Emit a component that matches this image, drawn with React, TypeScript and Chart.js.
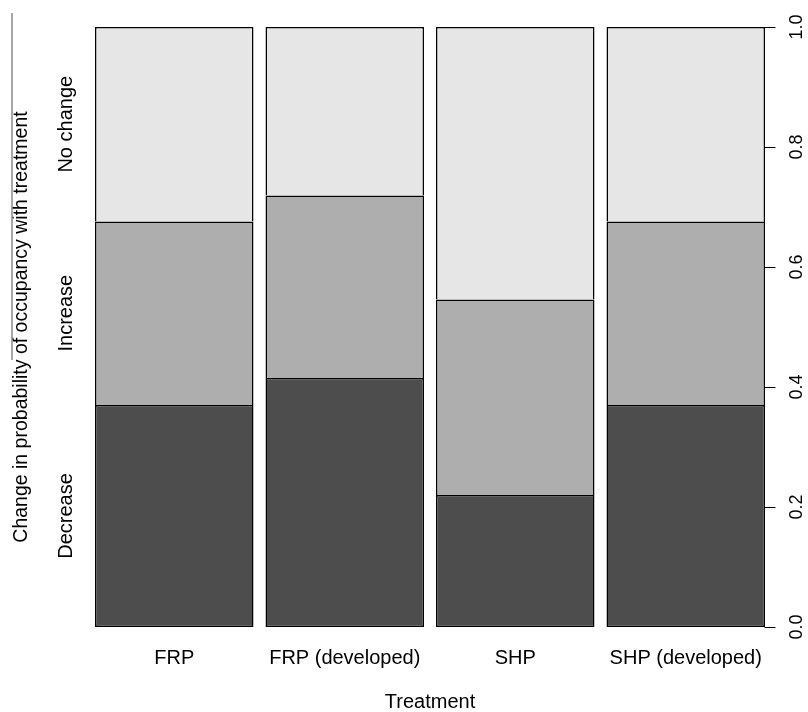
import { useEffect, useRef } from 'react';
import { Chart, registerables } from 'chart.js';

Chart.register(...registerables);

// ---- data ----
const categories = ['FRP', 'FRP (developed)', 'SHP', 'SHP (developed)'];
const responseLevels = ['Decrease', 'Increase', 'No change'];
const decrease = [0.37, 0.415, 0.22, 0.37];
const increase = [0.306, 0.304, 0.326, 0.306];
const noChange = [0.324, 0.281, 0.454, 0.324];
const yTickValues = [0, 0.2, 0.4, 0.6, 0.8, 1.0];
const seriesColors = ['#4D4D4D', '#AEAEAE', '#E6E6E6'];

const xTitle = 'Treatment';
const yTitle = 'Change in probability of occupancy with treatment';

const FONT = "'Liberation Sans', Arial, Helvetica, sans-serif";

// mid-points of the first column's segments, used for the left level labels
const firstCol = [decrease[0], increase[0], noChange[0]];
const levelPositions = firstCol.map((v, i) => firstCol.slice(0, i).reduce((a, b) => a + b, 0) + v / 2);

function measure(text: string, size: number) {
  const c = document.createElement('canvas').getContext('2d')!;
  c.font = `normal ${size}px ${FONT}`;
  return c.measureText(text).width;
}

const rightAxisPlugin = {
  id: 'rightAxisLine',
  afterDraw(chart: any) {
    const ctx = chart.ctx;
    const y = chart.scales.y;
    const meta = chart.getDatasetMeta(0);
    const last = meta.data[meta.data.length - 1];
    const props = last.getProps(['x', 'width'], true);
    const ax = Math.round(props.x + props.width / 2) - 0.5;
    ctx.save();
    ctx.strokeStyle = '#000';
    ctx.lineWidth = 1;
    ctx.beginPath();
    ctx.moveTo(ax, y.getPixelForValue(0));
    ctx.lineTo(ax, y.getPixelForValue(1));
    yTickValues.forEach((v) => {
      const py = Math.round(y.getPixelForValue(v)) + 0.5;
      ctx.moveTo(ax, py);
      ctx.lineTo(ax + 11, py);
    });
    ctx.stroke();
    // stray rule at upper left of the original figure
    ctx.strokeStyle = '#8a8a8a';
    ctx.lineWidth = 1.5;
    ctx.beginPath();
    ctx.moveTo(12, 13);
    ctx.lineTo(12, 360);
    ctx.stroke();
    ctx.restore();
  },
};

export default function App() {
  const ref = useRef<HTMLCanvasElement>(null);

  useEffect(() => {
    if (!ref.current) return;
    const widestLevel = Math.max(...responseLevels.map((t) => measure(t, 20)));
    const widestTick = Math.max(...yTickValues.map((t) => measure(t.toFixed(1), 18)));

    const chart = new Chart(ref.current, {
      type: 'bar',
      data: {
        labels: categories,
        datasets: [
          { label: responseLevels[0], data: decrease, backgroundColor: seriesColors[0], borderSkipped: false },
          { label: responseLevels[1], data: increase, backgroundColor: seriesColors[1], borderSkipped: 'bottom' },
          { label: responseLevels[2], data: noChange, backgroundColor: seriesColors[2], borderSkipped: 'bottom' },
        ].map((d) => ({
          ...d,
          borderColor: '#000',
          borderWidth: 1.5,
          inflateAmount: 0,
          barPercentage: 0.9296,
          categoryPercentage: 1,
          yAxisID: 'y',
        })) as any,
      },
      options: {
        animation: false,
        responsive: true,
        maintainAspectRatio: false,
        layout: { padding: { top: 27, left: 0, right: 0, bottom: 0 } },
        plugins: {
          legend: { display: false },
          tooltip: { enabled: false },
        },
        scales: {
          x: {
            type: 'category',
            stacked: true,
            grid: { display: false, drawTicks: false },
            border: { display: false },
            ticks: {
              font: { family: FONT, size: 20 },
              color: '#000',
              padding: 19,
              maxRotation: 0,
              minRotation: 0,
              autoSkip: false,
            },
            title: {
              display: true,
              text: xTitle,
              color: '#000',
              font: { family: FONT, size: 20, lineHeight: 1 },
              padding: { top: 22, bottom: 0 },
            },
            afterFit: (s: any) => {
              s.height = 85;
            },
          },
          y: {
            type: 'linear',
            position: 'right',
            stacked: true,
            min: 0,
            max: 1,
            grid: { display: false, drawTicks: false },
            border: { display: false },
            afterBuildTicks: (s: any) => {
              s.ticks = yTickValues.map((v) => ({ value: v }));
            },
            ticks: {
              font: { family: FONT, size: 18 },
              color: '#000',
              minRotation: 90,
              maxRotation: 90,
              crossAlign: 'center',
              padding: 797 - 771 - widestTick / 2,
              autoSkip: false,
              callback: (v: any) => Number(v).toFixed(1),
            },
            afterFit: (s: any) => {
              s.width = 37;
            },
          },
          yl: {
            type: 'linear',
            position: 'left',
            min: 0,
            max: 1,
            grid: { display: false, drawTicks: false },
            border: { display: false },
            afterBuildTicks: (s: any) => {
              s.ticks = levelPositions.map((v) => ({ value: v }));
            },
            ticks: {
              font: { family: FONT, size: 20 },
              color: '#000',
              minRotation: 90,
              maxRotation: 90,
              crossAlign: 'center',
              padding: 89 - 66 - widestLevel / 2,
              autoSkip: false,
              callback: (_v: any, i: number) => responseLevels[i],
            },
            title: {
              display: true,
              text: yTitle,
              color: '#000',
              font: { family: FONT, size: 19.5 },
              padding: { top: 10, bottom: 0 },
            },
            afterFit: (s: any) => {
              s.width = 89;
            },
          },
        },
      } as any,
      plugins: [rightAxisPlugin],
    });
    return () => chart.destroy();
  }, []);

  return (
    <div style={{ position: 'fixed', left: 0, top: 0, width: 808, height: 712, background: '#fff' }}>
      <canvas ref={ref} />
    </div>
  );
}
